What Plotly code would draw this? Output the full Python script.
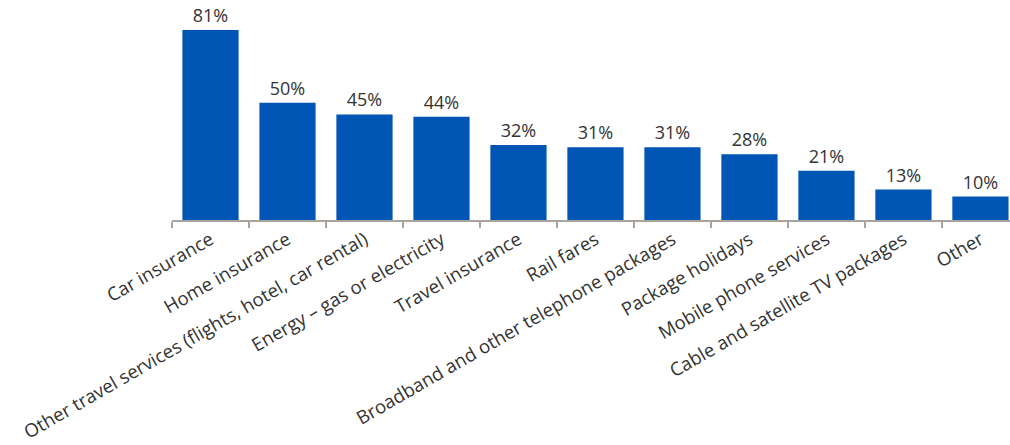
import plotly.graph_objects as go

categories = [
    "Car insurance",
    "Home insurance",
    "Other travel services (flights, hotel, car rental)",
    "Energy \u2013 gas or electricity",
    "Travel insurance",
    "Rail fares",
    "Broadband and other telephone packages",
    "Package holidays",
    "Mobile phone services",
    "Cable and satellite TV packages",
    "Other",
]
values = [81, 50, 45, 44, 32, 31, 31, 28, 21, 13, 10]
labels = [f"{v}%" for v in values]

fig = go.Figure(
    go.Bar(
        x=categories,
        y=values,
        text=labels,
        textposition="outside",
        cliponaxis=False,
        marker=dict(color="#0055b5", line=dict(width=0)),
        textfont=dict(size=18, color="#333333", family="Open Sans"),
    )
)

fig.update_layout(
    width=1010,
    height=445,
    margin=dict(l=172, r=0, t=10, b=225),
    paper_bgcolor="white",
    plot_bgcolor="white",
    bargap=0.27,
    showlegend=False,
    font=dict(family="Open Sans", color="#333333"),
)
fig.update_xaxes(
    range=[-0.5, 10.384],
    tickangle=-30,
    tickfont=dict(size=18.6, color="#333333", family="Open Sans"),
    showline=True,
    linecolor="#aaa39b",
    linewidth=1.5,
    ticks="outside",
    tickson="boundaries",
    ticklen=6,
    tickcolor="#aaa39b",
    tickwidth=1.5,
    showgrid=False,
)
fig.update_yaxes(
    range=[0, 89.5],
    visible=False,
    showgrid=False,
)

fig.write_html("out.html")
